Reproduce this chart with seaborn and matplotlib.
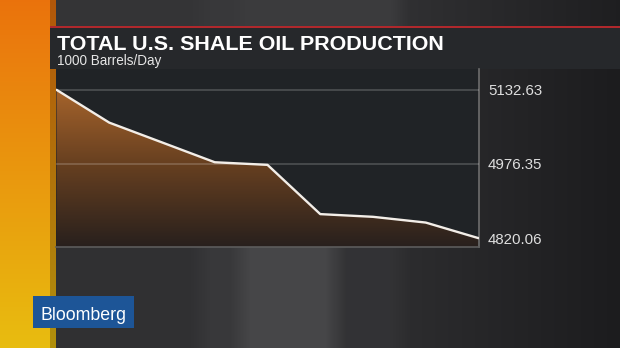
import numpy as np
import matplotlib
matplotlib.use("Agg")
import matplotlib.pyplot as plt
import seaborn as sns
from matplotlib.patches import Rectangle
from matplotlib.colors import LinearSegmentedColormap

# ---- data ----
title = "TOTAL U.S. SHALE OIL PRODUCTION"
subtitle = "1000 Barrels/Day"
brand = "Bloomberg"
periods = [0, 1, 2, 3, 4, 5, 6, 7, 8]
production = [5132.63, 5063.5, 5021.8, 4980.0, 4974.5, 4870.7, 4865.0, 4852.9, 4820.06]
tick_values = [4820.06, 4976.345, 5132.63]
tick_labels = ["4820.06", "4976.35", "5132.63"]

W, H = 620, 348
sns.set_theme(style="dark")
plt.rcParams['font.family'] = ['Liberation Sans', 'DejaVu Sans']

fig = plt.figure(figsize=(W / 100, H / 100), dpi=100)


def smooth(a, k):
    ker = np.ones(k) / k
    pad = np.pad(a, k, mode='edge')
    return np.convolve(pad, ker, mode='same')[k:-k]


# ---- background (studio backdrop) ----
bg = fig.add_axes([0, 0, 1, 1])
img = np.zeros((H, W, 3))
prof = np.full(W, 0.19)
prof[200:240] = 0.22
prof[240:336] = 0.275
prof[336:400] = 0.20
prof[400:] = np.linspace(0.175, 0.11, W - 400)
prof = smooth(prof, 21)
topb = np.full(W, 0.205)
topb[200:240] = 0.22
topb[240:400] = 0.235
topb[400:] = np.linspace(0.19, 0.12, W - 400)
topb = smooth(topb, 21)
img[:] = prof[None, :, None]
img[0:26] = topb[None, :, None]
img[:, :, 2] += 0.008
t = np.linspace(0, 1, H)[:, None]
top = np.array([0.92, 0.45, 0.05])
bot = np.array([0.91, 0.74, 0.06])
strip = top[None, :] * (1 - t) + bot[None, :] * t
img[:, 0:50] = strip[:, None, :]
img[:, 50:56] = (strip * 0.76)[:, None, :]
bg.imshow(np.clip(img, 0, 1), extent=[0, W, H, 0], aspect='auto', interpolation='bilinear')
bg.set_xlim(0, W)
bg.set_ylim(H, 0)
bg.axis('off')
bg.add_patch(Rectangle((50, 28), W - 50, 41, color='#26282b', lw=0))
bg.add_patch(Rectangle((50, 26), W - 50, 2.2, color='#b0282c', lw=0))
bg.add_patch(Rectangle((33, 296), 101, 32, color='#1d5597', lw=0))

# ---- chart ----
ax = fig.add_axes([56 / W, 1 - 247 / H, (479 - 56) / W, (247 - 69) / H])
ax.set_facecolor('#202326')
ylo, yhi = 4801.4, 5176.5
xlo, xhi = -0.01, 8.01
ax.set_xlim(xlo, xhi)
ax.set_ylim(ylo, yhi)

poly = ax.fill_between(periods, production, ylo, color='none', lw=0)
cmap = LinearSegmentedColormap.from_list(
    'oil', [(0, '#28201d'), (0.46, '#663f20'), (0.87, '#a3622b'), (1, '#b06c2f')])
grad = np.linspace(1, 0, 256)[:, None]
im = ax.imshow(grad, cmap=cmap, vmin=0, vmax=1, extent=[xlo, xhi, ylo, yhi],
               aspect='auto', origin='upper', zorder=1)
im.set_clip_path(poly.get_paths()[0], transform=ax.transData)

sns.lineplot(x=periods, y=production, ax=ax, color='#f3eee8', linewidth=1.7, zorder=5)

ax.set_yticks(tick_values, tick_labels)
ax.yaxis.tick_right()
ax.set_xticks([])
ax.tick_params(axis='y', length=0, pad=6.5, labelsize=10.8, labelcolor='#dedede')
ax.grid(True, axis='y', color='white', alpha=0.2, lw=1.2)
ax.grid(False, axis='x')
ax.set_axisbelow(False)
ax.get_ygridlines()[0].set_visible(False)
ax.set_xlabel('')
ax.set_ylabel('')
for s in ['left', 'top']:
    ax.spines[s].set_visible(False)
ax.spines['right'].set_color('#6d6d6d')
ax.spines['right'].set_linewidth(1.2)
ax.spines['bottom'].set_color('#5c5c5c')
ax.spines['bottom'].set_linewidth(1.2)


def fit_text(x, y, s, target_w, **kw):
    txt = fig.text(x / W, 1 - y / H, s, va='baseline', ha='left', **kw)
    r = fig.canvas.get_renderer()
    w = txt.get_window_extent(r).width
    txt.set_fontsize(txt.get_fontsize() * target_w / w)
    return txt


fit_text(56.7, 49.5, title, 388, fontsize=14, weight='bold', color='white')
fit_text(57, 65, subtitle, 105, fontsize=10, color='#e6e6e6')
fit_text(40.7, 320.5, brand, 86, fontsize=13, color='white')

fig.savefig('out.png', dpi=100)
